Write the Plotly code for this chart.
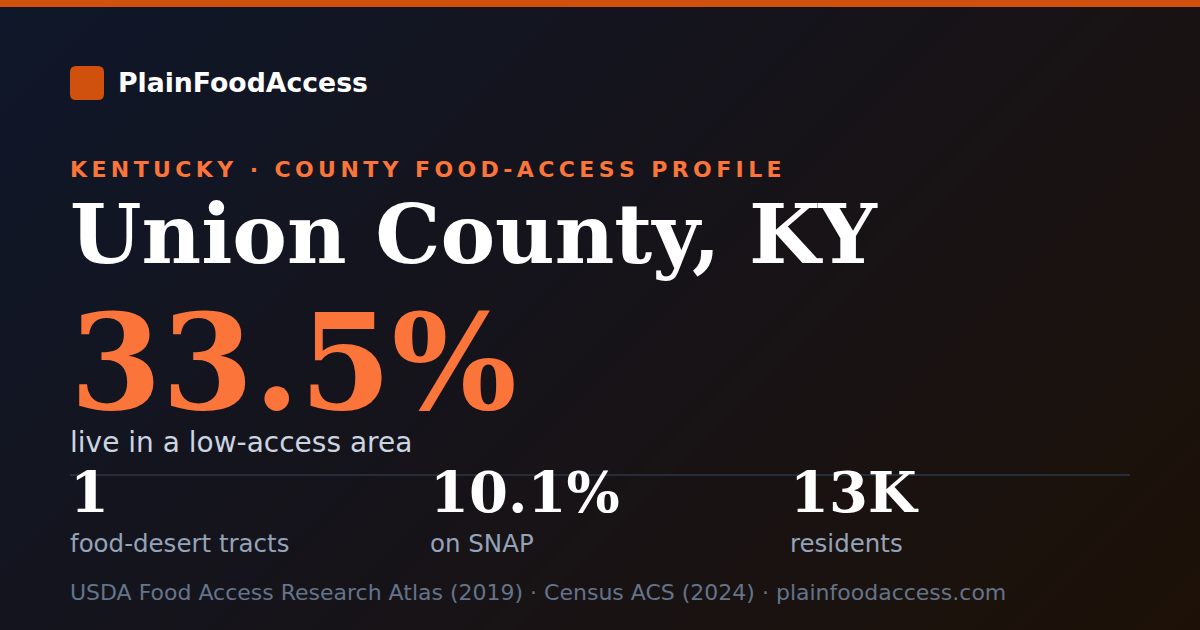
import plotly.graph_objects as go

# card content
brand = "PlainFoodAccess"
state = "Kentucky"
kicker = "County food-access profile"
county = "Union County, KY"
low_access_pct = 33.5
headline_label = "live in a low-access area"
stat_values = ["1", "10.1%", "13K"]
stat_labels = ["food-desert tracts", "on SNAP", "residents"]
sources = ["USDA Food Access Research Atlas (2019)", "Census ACS (2024)", "plainfoodaccess.com"]

W, H = 1200, 630
ORANGE = "#d0510d"
ACCENT = "#fb743a"
SANS = "DejaVu Sans"
SERIF = "DejaVu Serif"
THIN = "\u2009"


def spaced(s):
    # fake css letter-spacing with thin spaces
    return THIN.join(list(s))


fig = go.Figure()

# diagonal background gradient (navy -> dark brown), like a 135deg css gradient
gx = [0, W]
gy = [0, H]
gz = [[(x + y) / (W + H) for x in gx] for y in gy]
fig.add_trace(go.Heatmap(
    x=gx, y=gy, z=gz, zmin=0, zmax=1, zsmooth="best",
    colorscale=[[0, "#0f172a"], [0.5, "#161319"], [1, "#1d1107"]],
    showscale=False, hoverinfo="skip",
))


def text(x, baseline, s, size, color, family=SANS, weight=400):
    fig.add_annotation(
        x=x, y=baseline + 0.236 * size, xref="x", yref="y",
        xanchor="left", yanchor="bottom",
        text=s, showarrow=False, borderpad=0, borderwidth=0,
        font=dict(family=family, size=size, color=color, weight=weight),
    )


# top bar + logo mark
fig.add_shape(type="rect", x0=0, x1=W, y0=0, y1=7, fillcolor=ORANGE,
              line_width=0, layer="above")
r = 6
x0, x1, y0, y1 = 70, 104, 66, 100
fig.add_shape(
    type="path", fillcolor=ORANGE, line_width=0, layer="above",
    path=(f"M{x0+r},{y0} L{x1-r},{y0} Q{x1},{y0} {x1},{y0+r} L{x1},{y1-r} "
          f"Q{x1},{y1} {x1-r},{y1} L{x0+r},{y1} Q{x0},{y1} {x0},{y1-r} "
          f"L{x0},{y0+r} Q{x0},{y0} {x0+r},{y0} Z"),
)
# divider behind the stats
fig.add_shape(type="line", x0=70, x1=1130, y0=475, y1=475,
              line=dict(color="#272d39", width=2), layer="above")

text(118, 92, brand, 26.7, "white", weight=700)
text(70, 177, spaced(f"{state} · {kicker}".upper()), 22, ACCENT, weight=700)
text(70, 263, county, 82, "white", family=SERIF, weight=700)
text(70, 409, f"{low_access_pct}%", 132, ACCENT, family=SERIF, weight=700)
text(70, 452, headline_label, 28, "#cbd5e1")

for i, (v, lab) in enumerate(zip(stat_values, stat_labels)):
    x = 70 + 360 * i
    text(x, 512, v, 56, "white", family=SERIF, weight=700)
    text(x, 552, lab, 24.5, "#94a3b8")

text(70, 600, " · ".join(sources), 22, "#64748b")

fig.update_layout(
    width=W, height=H,
    margin=dict(l=0, r=0, t=0, b=0),
    paper_bgcolor="#141318", plot_bgcolor="#141318",
    xaxis=dict(range=[0, W], visible=False, fixedrange=True),
    yaxis=dict(range=[H, 0], visible=False, fixedrange=True),
    showlegend=False,
)

fig.write_html(
    "out.html",
    config={"displayModeBar": False},
    post_script="document.body.style.margin='0';document.body.style.overflow='hidden';",
)
